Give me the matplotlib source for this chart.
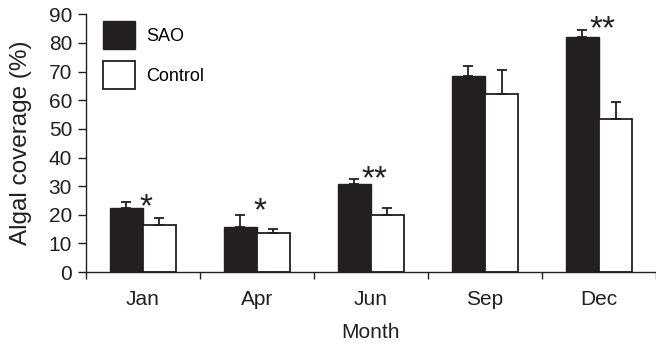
import matplotlib.pyplot as plt
import numpy as np

plt.rcParams['font.family'] = ['Liberation Sans', 'DejaVu Sans']

# data
months = ["Jan", "Apr", "Jun", "Sep", "Dec"]
sao = [22.4, 15.8, 30.8, 68.6, 81.9]
sao_err = [2.1, 4.2, 1.7, 3.4, 2.5]
control = [16.5, 13.6, 20.0, 62.3, 53.6]
control_err = [2.5, 1.4, 2.4, 8.1, 5.9]
stars = ["*", "*", "**", "", "**"]
star_y = [26.0, 24.5, 35.7, None, 88.0]

INK = "#231f20"
x = np.arange(len(months))
w = 0.29

fig = plt.figure(figsize=(6.56, 3.48), dpi=100)
ax = fig.add_axes([0.131, 0.218, 0.869, 0.741])

ebar = dict(ecolor=INK, elinewidth=1.3, capsize=3.8, capthick=1.3)
ax.bar(x - w / 2, sao, w, color=INK, edgecolor=INK, linewidth=1,
       label="SAO", yerr=[[0] * 5, sao_err], error_kw=ebar)
ax.bar(x + w / 2, control, w, color="white", edgecolor=INK, linewidth=1.3,
       label="Control", yerr=[[0] * 5, control_err], error_kw=ebar)

# significance stars (glyph centred on star_y)
for i, s in enumerate(stars):
    if s:
        ax.annotate(s, (x[i] + 0.03, star_y[i]), xytext=(0, -13.5),
                    textcoords="offset points", ha="center", va="baseline",
                    fontsize=24, color=INK)

ax.set_xlim(-0.5, len(months) - 0.5)
ax.set_ylim(0, 90)
ax.set_yticks(np.arange(0, 91, 10))

# group boundary ticks, labels at centres
ax.set_xticks(np.arange(-0.5, len(months), 1.0))
ax.set_xticklabels([])
ax.set_xticks(x, minor=True)
ax.set_xticklabels(months, minor=True)
ax.tick_params(axis="x", which="major", direction="out", length=5, width=1, color=INK)
ax.tick_params(axis="x", which="minor", length=0, pad=13, labelsize=15, labelcolor=INK)
ax.tick_params(axis="y", direction="out", length=6, width=1, pad=4, labelsize=15,
               color=INK, labelcolor=INK)

for sp in ["top", "right"]:
    ax.spines[sp].set_visible(False)
for sp in ["left", "bottom"]:
    ax.spines[sp].set_color(INK)
    ax.spines[sp].set_linewidth(1)

ax.set_ylabel("Algal coverage (%)", fontsize=17.5, color=INK)
ax.yaxis.set_label_coords(-0.094, 0.5)
ax.set_xlabel("Month", fontsize=15, color=INK, labelpad=10)

leg = ax.legend(loc="upper left", bbox_to_anchor=(103 / 656, 327 / 348),
                bbox_transform=fig.transFigure, frameon=False,
                borderpad=0, borderaxespad=0,
                fontsize=13, handlelength=1.78, handleheight=2.0,
                labelspacing=0.67, handletextpad=0.6)

fig.savefig("out.png", dpi=100)
